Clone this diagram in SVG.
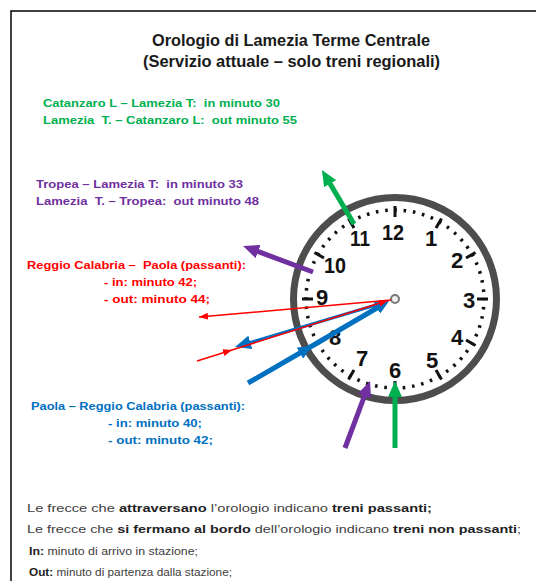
<svg xmlns="http://www.w3.org/2000/svg" width="536" height="581" viewBox="0 0 536 581">
<style>
text{font-family:"Liberation Sans",Arial,sans-serif}
.t{font-weight:bold;font-size:16.5px;fill:#1a1a1a}
.l{font-weight:bold;font-size:11.5px;white-space:pre}
.g{fill:#00B050}.p{fill:#7030A0}.r{fill:#FF0000}.b{fill:#0070C0}
.n{font-size:11.5px;fill:#404040}
.n tspan.k{font-weight:bold;fill:#222}
.num{font-size:22px;font-weight:bold;fill:#111;text-anchor:middle}
.ht{stroke:#111;stroke-width:3}
</style>
<defs>
<marker id="hG" markerUnits="userSpaceOnUse" markerWidth="16" markerHeight="14" refX="1" refY="7" orient="auto"><path d="M0,0 L16,7 L0,14 z" fill="#00B050"/></marker>
<marker id="hP" markerUnits="userSpaceOnUse" markerWidth="16" markerHeight="14" refX="1" refY="7" orient="auto"><path d="M0,0 L16,7 L0,14 z" fill="#7030A0"/></marker>
<marker id="hB" markerUnits="userSpaceOnUse" markerWidth="16" markerHeight="14" refX="1" refY="7" orient="auto"><path d="M0,0 L16,7 L0,14 z" fill="#0070C0"/></marker>
<marker id="hBs" markerUnits="userSpaceOnUse" markerWidth="14" markerHeight="13" refX="1" refY="6.5" orient="auto"><path d="M0,0 L14,6.5 L0,13 z" fill="#0070C0"/></marker>
<marker id="hBm" markerUnits="userSpaceOnUse" markerWidth="14" markerHeight="13" refX="14" refY="6.5" orient="auto"><path d="M0,0 L14,6.5 L0,13 z" fill="#0070C0"/></marker>
<marker id="hR" markerUnits="userSpaceOnUse" markerWidth="9" markerHeight="7" refX="9" refY="3.5" orient="auto"><path d="M0,0 L9,3.5 L0,7 z" fill="#FF0000"/></marker>
</defs>

<path d="M11,581 V11 H536" fill="none" stroke="#000" stroke-width="1.5"/>

<g id="title">
<text class="t" x="291" y="46" text-anchor="middle" textLength="278" lengthAdjust="spacingAndGlyphs">Orologio di Lamezia Terme Centrale</text>
<text class="t" x="291.5" y="67" text-anchor="middle" textLength="297" lengthAdjust="spacingAndGlyphs">(Servizio attuale – solo treni regionali)</text>
</g>

<g id="legend-catanzaro">
<text class="l g" x="43" y="107" textLength="237" lengthAdjust="spacingAndGlyphs">Catanzaro L – Lamezia T:  in minuto 30</text>
<text class="l g" x="43" y="124" textLength="254" lengthAdjust="spacingAndGlyphs">Lamezia  T. – Catanzaro L:  out minuto 55</text>
</g>

<g id="legend-tropea">
<text class="l p" x="36" y="188" textLength="207" lengthAdjust="spacingAndGlyphs">Tropea – Lamezia T:  in minuto 33</text>
<text class="l p" x="36" y="205" textLength="223" lengthAdjust="spacingAndGlyphs">Lamezia  T. – Tropea:  out minuto 48</text>
</g>

<g id="legend-reggio-paola">
<text class="l r" x="27" y="269" textLength="219" lengthAdjust="spacingAndGlyphs">Reggio Calabria –  Paola (passanti):</text>
<text class="l r" x="104" y="286" textLength="93" lengthAdjust="spacingAndGlyphs">- in: minuto 42;</text>
<text class="l r" x="104" y="303" textLength="106" lengthAdjust="spacingAndGlyphs">- out: minuto 44;</text>
</g>

<g id="legend-paola-reggio">
<text class="l b" x="31" y="410" textLength="214" lengthAdjust="spacingAndGlyphs">Paola – Reggio Calabria (passanti):</text>
<text class="l b" x="108" y="427" textLength="94" lengthAdjust="spacingAndGlyphs">- in: minuto 40;</text>
<text class="l b" x="108" y="444" textLength="105" lengthAdjust="spacingAndGlyphs">- out: minuto 42;</text>
</g>

<g id="clock">
<circle cx="395" cy="299" r="101.5" fill="#fff" stroke="#4d4d4d" stroke-width="7"/>
<circle cx="395" cy="299" r="89" fill="none" stroke="#111" stroke-width="3.5" stroke-dasharray="2.6 6.72" stroke-dashoffset="1.3"/>
<g class="ht">
<line x1="395" y1="206" x2="395" y2="217"/>
<line x1="395" y1="206" x2="395" y2="217" transform="rotate(30 395 299)"/>
<line x1="395" y1="206" x2="395" y2="217" transform="rotate(60 395 299)"/>
<line x1="395" y1="206" x2="395" y2="217" transform="rotate(90 395 299)"/>
<line x1="395" y1="206" x2="395" y2="217" transform="rotate(120 395 299)"/>
<line x1="395" y1="206" x2="395" y2="217" transform="rotate(150 395 299)"/>
<line x1="395" y1="206" x2="395" y2="217" transform="rotate(180 395 299)"/>
<line x1="395" y1="206" x2="395" y2="217" transform="rotate(210 395 299)"/>
<line x1="395" y1="206" x2="395" y2="217" transform="rotate(240 395 299)"/>
<line x1="395" y1="206" x2="395" y2="217" transform="rotate(270 395 299)"/>
<line x1="395" y1="206" x2="395" y2="217" transform="rotate(300 395 299)"/>
<line x1="395" y1="206" x2="395" y2="217" transform="rotate(330 395 299)"/>
</g>
<text class="num" x="393" y="240" textLength="22" lengthAdjust="spacingAndGlyphs">12</text>
<text class="num" x="431" y="246">1</text>
<text class="num" x="457" y="268">2</text>
<text class="num" x="469" y="308">3</text>
<text class="num" x="457" y="345">4</text>
<text class="num" x="432" y="368">5</text>
<text class="num" x="395" y="378">6</text>
<text class="num" x="362" y="366">7</text>
<text class="num" x="335" y="345">8</text>
<text class="num" x="322" y="305">9</text>
<text class="num" x="335" y="273" textLength="22" lengthAdjust="spacingAndGlyphs">10</text>
<text class="num" x="360" y="246" textLength="20" lengthAdjust="spacingAndGlyphs">11</text>
<circle cx="395" cy="299" r="4" fill="#eee" stroke="#777" stroke-width="2"/>
</g>

<g id="connectors" fill="none">
<line x1="395" y1="448" x2="395" y2="396" stroke="#00B050" stroke-width="5" marker-end="url(#hG)"/>
<line x1="354" y1="224" x2="329.6" y2="182.9" stroke="#00B050" stroke-width="5" marker-end="url(#hG)"/>
<line x1="345" y1="448" x2="364.8" y2="395.1" stroke="#7030A0" stroke-width="5" marker-end="url(#hP)"/>
<line x1="313" y1="272" x2="257.1" y2="251.2" stroke="#7030A0" stroke-width="5" marker-end="url(#hP)"/>
<path d="M248,383 L312,346 L377.8,307.5" stroke="#0070C0" stroke-width="5" marker-mid="url(#hBm)" marker-end="url(#hBs)"/>
<line x1="386" y1="302" x2="249.4" y2="342.7" stroke="#0070C0" stroke-width="3" marker-end="url(#hB)"/>
<line x1="391" y1="300" x2="199" y2="317" stroke="#FF0000" stroke-width="1.5" marker-end="url(#hR)"/>
<path d="M197,361 L232,350 L388,300.5" stroke="#FF0000" stroke-width="1.5" marker-mid="url(#hR)" marker-end="url(#hR)"/>
</g>

<g id="notes">
<text class="n" x="27" y="512" textLength="405" lengthAdjust="spacingAndGlyphs">Le frecce che <tspan class="k">attraversano</tspan> l’orologio indicano <tspan class="k">treni passanti;</tspan></text>
<text class="n" x="27" y="533" textLength="494" lengthAdjust="spacingAndGlyphs">Le frecce che <tspan class="k">si fermano al bordo</tspan> dell’orologio indicano <tspan class="k">treni non passanti</tspan>;</text>
<text class="n" x="29" y="555" textLength="169" lengthAdjust="spacingAndGlyphs"><tspan class="k">In:</tspan> minuto di arrivo in stazione;</text>
<text class="n" x="29" y="576" textLength="203" lengthAdjust="spacingAndGlyphs"><tspan class="k">Out:</tspan> minuto di partenza dalla stazione;</text>
</g>
</svg>
